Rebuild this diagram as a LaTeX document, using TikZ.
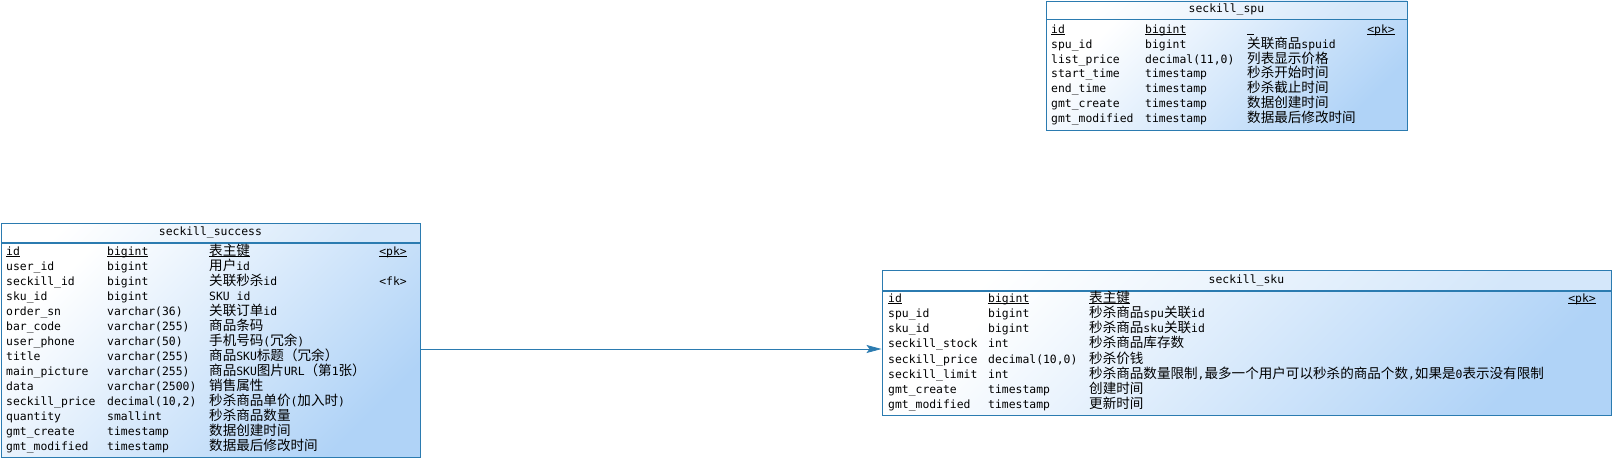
\documentclass[tikz,border=0pt]{standalone}
\usepackage{fontspec}
\setmonofont{DejaVu Sans Mono}
\newfontfamily\zhfont{Noto Sans CJK SC}[Scale=1.19]
\usetikzlibrary{arrows.meta,positioning}
\definecolor{erdline}{HTML}{2B7BB0}
\definecolor{bodyblue}{HTML}{B0D3F7}
\definecolor{headblue}{HTML}{D4E7FA}
\newcommand\zh[1]{{\zhfont #1}}
\newcommand\ul[1]{\setbox0\hbox{#1}\rlap{\rule[-2pt]{\wd0}{.7pt}}\box0}
\tikzset{
  thead/.style={draw=erdline,line width=.8pt,top color=white,bottom color=headblue,shading angle=45,anchor=north west,inner sep=0pt},
  tbody/.style={draw=erdline,line width=.8pt,top color=white,bottom color=bodyblue,shading angle=45,inner sep=0pt},
  fld/.style={anchor=base west,inner sep=0pt},
  key/.style={anchor=base east,inner sep=0pt},
  fk/.style={draw=erdline,line width=.8pt,-{Stealth[length=15pt,width=8pt,inset=3pt]}}
}

\begin{document}
\begin{tikzpicture}[x=1pt,y=-1pt,font=\ttfamily\fontsize{11.4}{14}\selectfont]
\useasboundingbox (0,0) rectangle (1612,458);
% seckill_spu
\node[thead,minimum width=361pt,minimum height=18pt] (spu-head) at (1045.5,.5) {seckill\_spu};
\node[tbody,minimum width=361pt,minimum height=111pt,below=0pt of spu-head] (spu) {};
\node[fld] (p1a) at (1051,33) {\ul{id}};\node[fld] (p1b) at (1145,33) {\ul{bigint}};\node[fld] (p1c) at (1247,33) {\ul{\ }};\node[key] (p1k) at (1395,33) {\ul{<pk>}};
\node[fld] (p2a) at (1051,48) {spu\_id};\node[fld] (p2b) at (1145,48) {bigint};\node[fld] (p2c) at (1247,48) {\zh{关联商品}spuid};
\node[fld] (p3a) at (1051,63) {list\_price};\node[fld] (p3b) at (1145,63) {decimal(11,0)};\node[fld] (p3c) at (1247,63) {\zh{列表显示价格}};
\node[fld] (p4a) at (1051,77) {start\_time};\node[fld] (p4b) at (1145,77) {timestamp};\node[fld] (p4c) at (1247,77) {\zh{秒杀开始时间}};
\node[fld] (p5a) at (1051,92) {end\_time};\node[fld] (p5b) at (1145,92) {timestamp};\node[fld] (p5c) at (1247,92) {\zh{秒杀截止时间}};
\node[fld] (p6a) at (1051,107) {gmt\_create};\node[fld] (p6b) at (1145,107) {timestamp};\node[fld] (p6c) at (1247,107) {\zh{数据创建时间}};
\node[fld] (p7a) at (1051,122) {gmt\_modified};\node[fld] (p7b) at (1145,122) {timestamp};\node[fld] (p7c) at (1247,122) {\zh{数据最后修改时间}};
% seckill_success
\node[thead,minimum width=419pt,minimum height=19pt] (success-head) at (.5,223) {seckill\_success};
\node[tbody,minimum width=419pt,minimum height=214pt,below=0pt of success-head] (success) {};
\node[fld] (s1a) at (6,255) {\ul{id}};\node[fld] (s1b) at (107,255) {\ul{bigint}};\node[fld] (s1c) at (209,255) {\ul{\zh{表主键}}};\node[key] (s1k) at (407,255) {\ul{<pk>}};
\node[fld] (s2a) at (6,270) {user\_id};\node[fld] (s2b) at (107,270) {bigint};\node[fld] (s2c) at (209,270) {\zh{用户}id};
\node[fld] (s3a) at (6,285) {seckill\_id};\node[fld] (s3b) at (107,285) {bigint};\node[fld] (s3c) at (209,285) {\zh{关联秒杀}id};\node[key] (s3k) at (407,285) {<fk>};
\node[fld] (s4a) at (6,300) {sku\_id};\node[fld] (s4b) at (107,300) {bigint};\node[fld] (s4c) at (209,300) {SKU id};
\node[fld] (s5a) at (6,315) {order\_sn};\node[fld] (s5b) at (107,315) {varchar(36)};\node[fld] (s5c) at (209,315) {\zh{关联订单}id};
\node[fld] (s6a) at (6,330) {bar\_code};\node[fld] (s6b) at (107,330) {varchar(255)};\node[fld] (s6c) at (209,330) {\zh{商品条码}};
\node[fld] (s7a) at (6,345) {user\_phone};\node[fld] (s7b) at (107,345) {varchar(50)};\node[fld] (s7c) at (209,345) {\zh{手机号码}(\zh{冗余})};
\node[fld] (s8a) at (6,360) {title};\node[fld] (s8b) at (107,360) {varchar(255)};\node[fld] (s8c) at (209,360) {\zh{商品}SKU\zh{标题（冗余）}};
\node[fld] (s9a) at (6,375) {main\_picture};\node[fld] (s9b) at (107,375) {varchar(255)};\node[fld] (s9c) at (209,375) {\zh{商品}SKU\zh{图片}URL\zh{（第}1\zh{张）}};
\node[fld] (s10a) at (6,390) {data};\node[fld] (s10b) at (107,390) {varchar(2500)};\node[fld] (s10c) at (209,390) {\zh{销售属性}};
\node[fld] (s11a) at (6,405) {seckill\_price};\node[fld] (s11b) at (107,405) {decimal(10,2)};\node[fld] (s11c) at (209,405) {\zh{秒杀商品单价}(\zh{加入时})};
\node[fld] (s12a) at (6,420) {quantity};\node[fld] (s12b) at (107,420) {smallint};\node[fld] (s12c) at (209,420) {\zh{秒杀商品数量}};
\node[fld] (s13a) at (6,435) {gmt\_create};\node[fld] (s13b) at (107,435) {timestamp};\node[fld] (s13c) at (209,435) {\zh{数据创建时间}};
\node[fld] (s14a) at (6,450) {gmt\_modified};\node[fld] (s14b) at (107,450) {timestamp};\node[fld] (s14c) at (209,450) {\zh{数据最后修改时间}};
% seckill_sku
\node[thead,minimum width=729pt,minimum height=20pt] (sku-head) at (881.5,270) {seckill\_sku};
\node[tbody,minimum width=729pt,minimum height=124pt,below=0pt of sku-head] (sku) {};
\node[fld] (k1a) at (888,302) {\ul{id}};\node[fld] (k1b) at (988,302) {\ul{bigint}};\node[fld] (k1c) at (1089,302) {\ul{\zh{表主键}}};\node[key] (k1k) at (1596,302) {\ul{<pk>}};
\node[fld] (k2a) at (888,317) {spu\_id};\node[fld] (k2b) at (988,317) {bigint};\node[fld] (k2c) at (1089,317) {\zh{秒杀商品}spu\zh{关联}id};
\node[fld] (k3a) at (888,332) {sku\_id};\node[fld] (k3b) at (988,332) {bigint};\node[fld] (k3c) at (1089,332) {\zh{秒杀商品}sku\zh{关联}id};
\node[fld] (k4a) at (888,347) {seckill\_stock};\node[fld] (k4b) at (988,347) {int};\node[fld] (k4c) at (1089,347) {\zh{秒杀商品库存数}};
\node[fld] (k5a) at (888,363) {seckill\_price};\node[fld] (k5b) at (988,363) {decimal(10,0)};\node[fld] (k5c) at (1089,363) {\zh{秒杀价钱}};
\node[fld] (k6a) at (888,378) {seckill\_limit};\node[fld] (k6b) at (988,378) {int};\node[fld] (k6c) at (1089,378) {\zh{秒杀商品数量限制},\zh{最多一个用户可以秒杀的商品个数},\zh{如果是}0\zh{表示没有限制}};
\node[fld] (k7a) at (888,393) {gmt\_create};\node[fld] (k7b) at (988,393) {timestamp};\node[fld] (k7c) at (1089,393) {\zh{创建时间}};
\node[fld] (k8a) at (888,408) {gmt\_modified};\node[fld] (k8b) at (988,408) {timestamp};\node[fld] (k8c) at (1089,408) {\zh{更新时间}};
% reference
\coordinate (lnk) at (0,349);
\draw[fk] (success.east |- lnk) -- (sku.west |- lnk);
\end{tikzpicture}
\end{document}
